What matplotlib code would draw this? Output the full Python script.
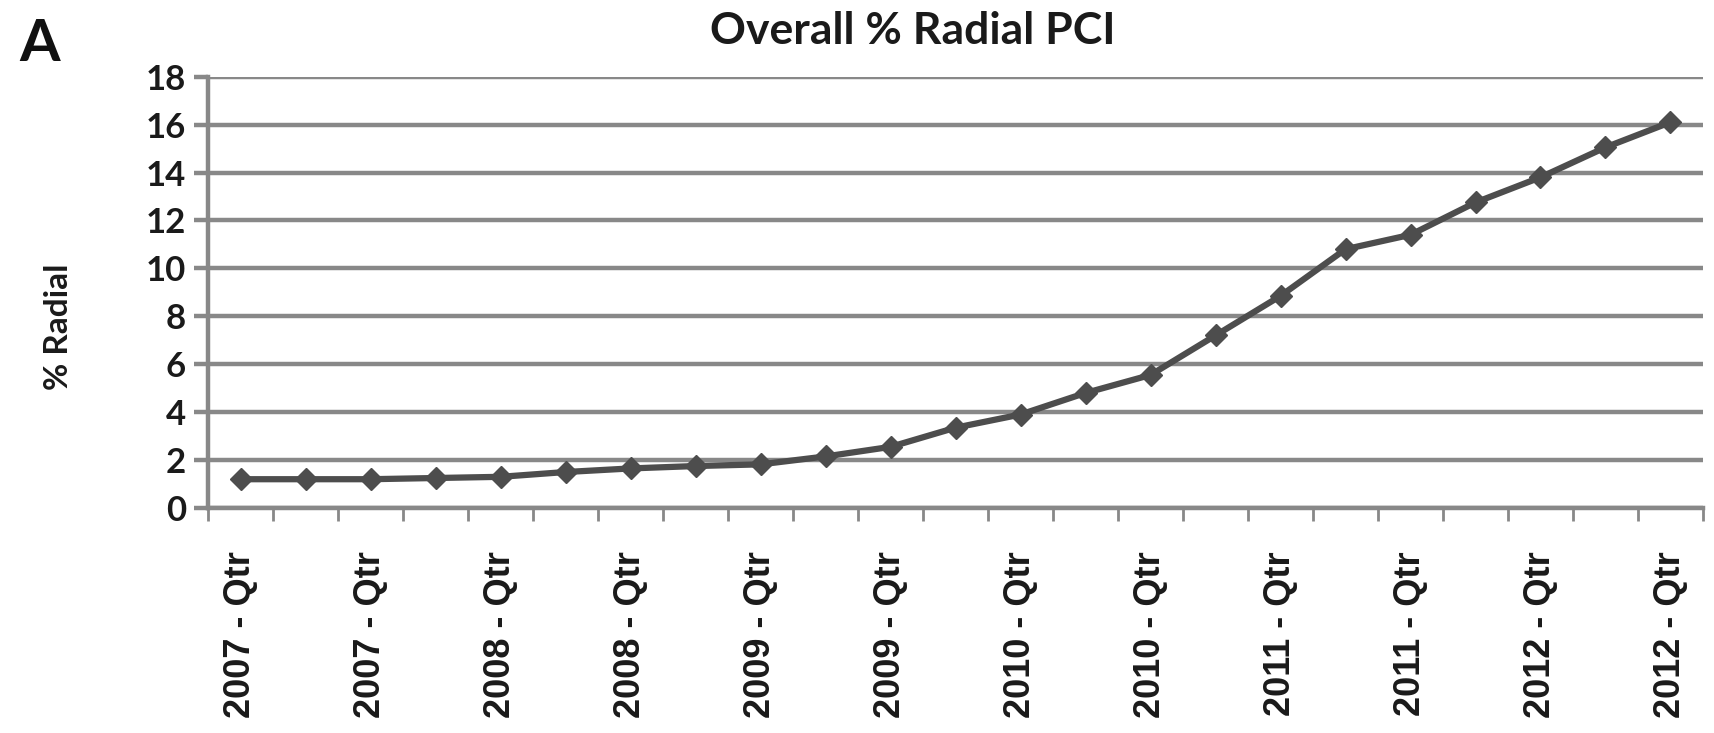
import matplotlib
matplotlib.use("Agg")
import matplotlib.pyplot as plt
import numpy as np

categories = ["2007 - Qtr", "2007 - Qtr", "2007 - Qtr", "2007 - Qtr",
              "2008 - Qtr", "2008 - Qtr", "2008 - Qtr", "2008 - Qtr",
              "2009 - Qtr", "2009 - Qtr", "2009 - Qtr", "2009 - Qtr",
              "2010 - Qtr", "2010 - Qtr", "2010 - Qtr", "2010 - Qtr",
              "2011 - Qtr", "2011 - Qtr", "2011 - Qtr", "2011 - Qtr",
              "2012 - Qtr", "2012 - Qtr", "2012 - Qtr"]
radial_pct = [1.2, 1.2, 1.2, 1.25, 1.3, 1.5, 1.65, 1.75, 1.82, 2.15, 2.55, 3.35,
              3.9, 4.8, 5.55, 7.2, 8.85, 10.8, 11.4, 12.75, 13.8, 15.05, 16.1]
y_ticks = [0, 2, 4, 6, 8, 10, 12, 14, 16, 18]
title = "Overall % Radial PCI"
y_label = "% Radial"
panel_label = "A"

plt.rcParams['font.family'] = ['Lato', 'DejaVu Sans']

fig = plt.figure(figsize=(17.15, 7.33), dpi=100)
ax = fig.add_axes([0.1213, 0.307, 0.8717, 0.5884])

n = len(radial_pct)
x = np.arange(n)
ax.plot(x, radial_pct, color="#4d4d4d", lw=4.5, marker="D", markersize=11,
        markerfacecolor="#4d4d4d", markeredgecolor="#4d4d4d", zorder=3)

ax.set_xlim(-0.5, n - 0.5)
ax.set_ylim(0, 18)
ax.set_yticks(y_ticks)
ax.set_yticklabels([str(t) for t in y_ticks], fontsize=25, fontweight="bold",
                   color="#1a1a1a")
ax.yaxis.grid(True, color="#888888", lw=3.2)
ax.set_axisbelow(True)

# category boundary ticks
ax.set_xticks(np.arange(-0.5, n, 1.0))
ax.set_xticklabels([])
ax.tick_params(axis="x", which="major", length=9, width=2, color="#888888",
               direction="out")
ax.tick_params(axis="y", which="major", length=10, width=3.2, color="#888888",
               direction="out", pad=6)
# labels every other category
ax.set_xticks(x[::2], minor=True)
ax.set_xticklabels([categories[i] for i in x[::2]], minor=True, rotation=90,
                   fontsize=26, fontweight="bold", color="#1a1a1a",
                   fontfamily=["Liberation Sans", "DejaVu Sans"])
ax.tick_params(axis="x", which="minor", length=0, pad=31)

for s in ["top", "right"]:
    ax.spines[s].set_visible(False)
for s in ["left", "bottom"]:
    ax.spines[s].set_color("#888888")
    ax.spines[s].set_linewidth(3.2)

ax.set_ylabel(y_label, fontsize=24, fontweight="bold", color="#1a1a1a")
ax.yaxis.set_label_coords(-0.0905, 0.42)
fig.text(0.532, 0.985, title, ha="center", va="top", fontsize=32,
         fontweight="bold", color="#1a1a1a")
fig.text(0.011, 0.975, panel_label, ha="left", va="top", fontsize=42,
         fontweight="bold", color="#111111")

fig.savefig("out.png", dpi=100, facecolor="white")
